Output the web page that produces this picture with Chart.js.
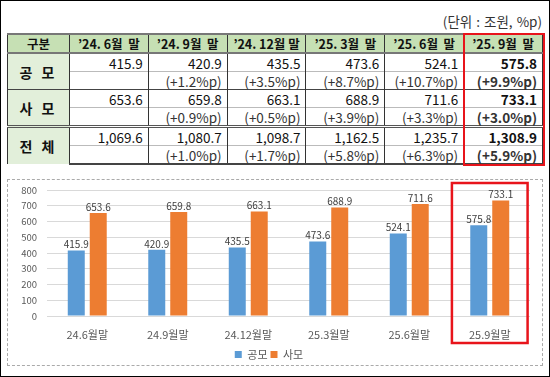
<!DOCTYPE html>
<html>
<head>
<meta charset="utf-8">
<script src="https://cdn.jsdelivr.net/npm/chart.js@4/dist/chart.umd.min.js"></script>
<style>
  body { margin: 0; background: #fff; }
  #wrap { position: relative; width: 550px; height: 377px; box-sizing: border-box; border: 1px solid #000; overflow: hidden;
          font-family: 'Noto Sans CJK KR', 'Noto Sans', sans-serif; color: #111; }
  #unit { position: absolute; right: 7px; top: 10px; font-size: 13.5px; color: #333; word-spacing: 1px; }
  #tbl { position: absolute; left: 6px; top: 32px; border-collapse: collapse; table-layout: fixed; width: 536px; }
  #tbl td, #tbl th { padding: 0 5px 0 0; border-left: 1px solid #333; border-right: 1px solid #333; font-size: 13.5px; line-height: 16px; white-space: pre; }
  #tbl th { background: #c6e0b4; font-size: 12.5px; font-weight: bold; text-align: center; height: 17px; padding: 0;
            border-top: 2px solid #777; border-bottom: 2px solid #777; }
  #tbl td { text-align: right; height: 17px; }
  #tbl td.lab { background: #e2efda; text-align: center; font-weight: bold; font-size: 14px; letter-spacing: 3px; padding: 0; }
  #tbl tr.v td { border-top: 1px solid #444; }
  #tbl tr.p td { border-top: 1px solid #bbb; color: #333; }
  #tbl tr.tot td { border-top: 3px double #555; }
  #tbl tr.last td { border-bottom: 2px solid #444; }
  #tbl .hl { font-weight: bold; }
  #redT { position: absolute; box-sizing: border-box; border: 2px solid #e8141b; }
  #box { position: absolute; left: 6px; top: 178px; width: 536px; height: 187px; box-sizing: border-box; border: 1px dashed #aaa; }
  #cv { position: relative; width: 534px; height: 185px; }
</style>
</head>
<body>
<div id="wrap">
  <div id="unit">(단위 : 조원, %p)</div>
  <table id="tbl"><colgroup><col style="width:62px"></colgroup><thead><tr id="head"></tr></thead><tbody id="body"></tbody></table>
  <div id="redT"></div>
  <div id="box"><div id="cv"><canvas id="chart"></canvas></div></div>
</div>
<script>
var periods = ['’24. 6월  말', '’24. 9월  말', '’24. 12월 말', '’25. 3월  말', '’25. 6월  말', '’25. 9월  말'];
var chartLabels = ['24.6월말', '24.9월말', '24.12월말', '25.3월말', '25.6월말', '25.9월말'];
var publicVals = [415.9, 420.9, 435.5, 473.6, 524.1, 575.8];
var privateVals = [653.6, 659.8, 663.1, 688.9, 711.6, 733.1];
var totalVals = [1069.6, 1080.7, 1098.7, 1162.5, 1235.7, 1308.9];
var publicPct = ['', '+1.2', '+3.5', '+8.7', '+10.7', '+9.9'];
var privatePct = ['', '+0.9', '+0.5', '+3.9', '+3.3', '+3.0'];
var totalPct = ['', '+1.0', '+1.7', '+5.8', '+6.3', '+5.9'];
var rowNames = ['공 모', '사 모', '전 체'];

// table
var head = document.getElementById('head');
head.innerHTML = '<th>구분</th>' + periods.map(function(p) { return '<th>' + p + '</th>'; }).join('');
var fmt = function(v) { return v.toLocaleString('en-US', { minimumFractionDigits: 1, maximumFractionDigits: 1 }); };
var groups = [[publicVals, publicPct], [privateVals, privatePct], [totalVals, totalPct]];
var html = '';
groups.forEach(function(g, gi) {
  var cls = gi == 2 ? 'v tot' : 'v';
  html += '<tr class="' + cls + '"><td class="lab" rowspan="2">' + rowNames[gi] + '</td>';
  g[0].forEach(function(v, i) { html += '<td' + (i == 5 ? ' class="hl"' : '') + '>' + fmt(v) + '</td>'; });
  html += '</tr><tr class="p' + (gi == 2 ? ' last' : '') + '">';
  g[1].forEach(function(p, i) { html += '<td' + (i == 5 ? ' class="hl"' : '') + '>' + (p ? '(' + p + '%p)' : '') + '</td>'; });
  html += '</tr>';
});
document.getElementById('body').innerHTML = html;

// red frame around the last table column
var tbl = document.getElementById('tbl');
var wrapR = document.getElementById('wrap').getBoundingClientRect();
var th = head.lastChild.getBoundingClientRect();
var tr = tbl.getBoundingClientRect();
var red = document.getElementById('redT');
red.style.left = (th.left - wrapR.left - 2) + 'px';
red.style.top = (tr.top - wrapR.top - 1) + 'px';
red.style.width = (th.width + 3) + 'px';
red.style.height = (tr.height + 1) + 'px';

// chart
var font = "'Noto Sans CJK KR', 'Noto Sans', sans-serif";

var valueLabels = {
  id: 'valueLabels',
  afterDatasetsDraw: function(chart) {
    var ctx = chart.ctx;
    ctx.save();
    ctx.font = '10px ' + font;
    ctx.fillStyle = '#404040';
    ctx.textAlign = 'center';
    chart.data.datasets.forEach(function(ds, di) {
      chart.getDatasetMeta(di).data.forEach(function(bar, i) {
        ctx.fillText(ds.data[i].toFixed(1), bar.x, bar.y - 6);
      });
    });
    ctx.restore();
  }
};

var highlight = {
  id: 'highlight',
  afterDraw: function(chart) {
    var x = chart.scales.x, a = chart.chartArea;
    var idx = chartLabels.length - 1;
    var cw = (a.right - a.left) / chartLabels.length;
    var cx = x.getPixelForValue(idx);
    var ctx = chart.ctx;
    ctx.save();
    ctx.strokeStyle = '#e8141b';
    ctx.lineWidth = 2.5;
    ctx.strokeRect(cx - cw * 0.47, a.top - 7, cw * 0.94, a.bottom - a.top + 34);
    ctx.restore();
  }
};

new Chart(document.getElementById('chart'), {
  type: 'bar',
  data: {
    labels: chartLabels,
    datasets: [{
      label: '공모',
      data: publicVals,
      backgroundColor: '#5b9bd5'
    }, {
      label: '사모',
      data: privateVals,
      backgroundColor: '#ed7d31'
    }]
  },
  options: {
    responsive: true,
    maintainAspectRatio: false,
    animation: false,
    categoryPercentage: 0.546,
    barPercentage: 0.773,
    layout: { padding: { top: 10, right: 12, left: 0, bottom: 0 } },
    plugins: {
      tooltip: { enabled: false },
      legend: {
        position: 'bottom',
        maxHeight: 19,
        labels: { boxWidth: 7, boxHeight: 7, padding: 3, color: '#595959', font: { family: font, size: 11 } }
      }
    },
    scales: {
      x: {
        grid: { display: false, drawTicks: false },
        border: { display: false },
        ticks: { color: '#595959', padding: 12, font: { family: font, size: 11 } },
        afterFit: function(s) { s.height = 30; }
      },
      y: {
        min: 0, max: 800,
        grid: { color: '#d9d9d9', drawTicks: false },
        border: { display: false },
        ticks: { stepSize: 100, autoSkip: false, color: '#595959', padding: 10, font: { family: font, size: 9.5 } },
        afterFit: function(s) { s.width = 39; s.paddingTop = 0; s.paddingBottom = 0; }
      }
    }
  },
  plugins: [valueLabels, highlight]
});
</script>
</body>
</html>
